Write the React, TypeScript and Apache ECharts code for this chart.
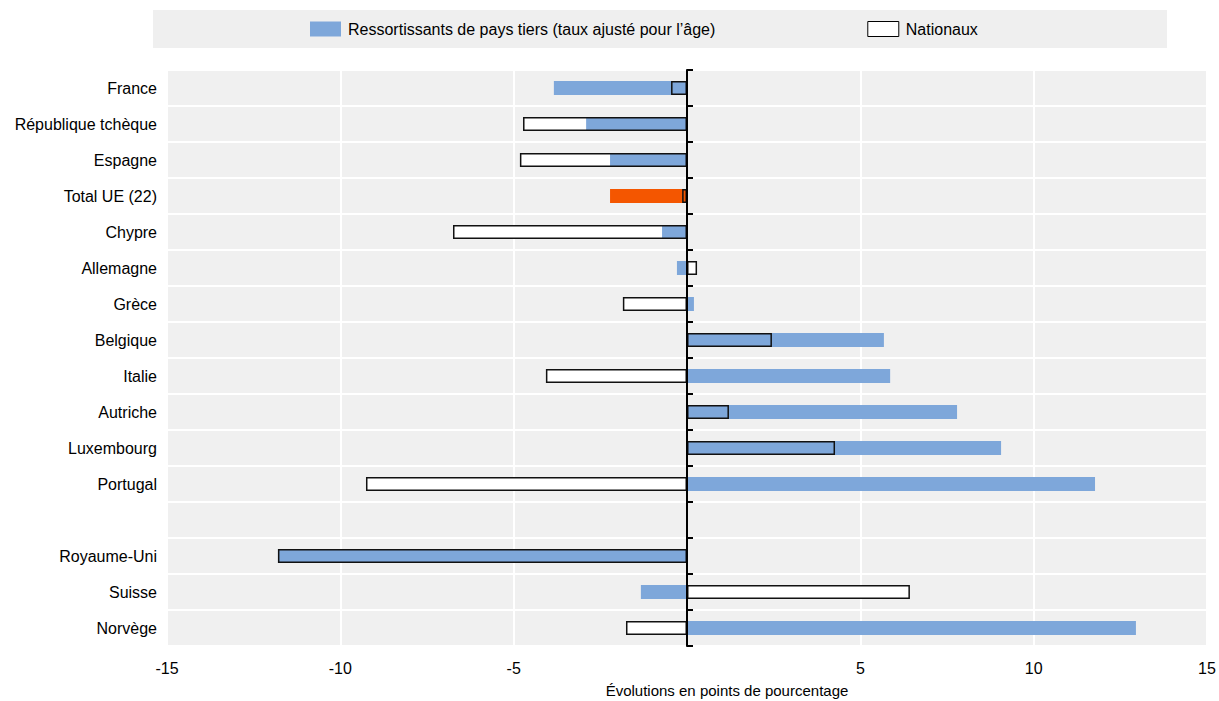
import React, { useEffect, useRef } from "react";
import * as echarts from "echarts";

const categories = [
  "France",
  "République tchèque",
  "Espagne",
  "Total UE (22)",
  "Chypre",
  "Allemagne",
  "Grèce",
  "Belgique",
  "Italie",
  "Autriche",
  "Luxembourg",
  "Portugal",
  "",
  "Royaume-Uni",
  "Suisse",
  "Norvège",
];

const thirdCountry = [-3.84, -2.91, -2.22, -2.22, -0.72, -0.29, 0.2, 5.68, 5.86, 7.79, 9.06, 11.77, null, -11.8, -1.33, 12.95];
const nationals = [-0.46, -4.73, -4.82, -0.14, -6.75, 0.29, -1.85, 2.45, -4.07, 1.21, 4.27, -9.26, null, -11.8, 6.43, -1.76];

const highlightCategory = "Total UE (22)";
const seriesThird = "Ressortissants de pays tiers (taux ajusté pour l’âge)";
const seriesNat = "Nationaux";
const axisName = "Évolutions en points de pourcentage";

const BLUE = "#7ea7da";
const ORANGE = "#f45600";
const FONT = "Liberation Sans, Arial, sans-serif";

export default function App() {
  const ref = useRef<HTMLDivElement>(null);
  useEffect(() => {
    if (!ref.current) return;
    const chart = echarts.init(ref.current, null, { renderer: "svg" });
    const blueData = thirdCountry.map((v, i) =>
      categories[i] === highlightCategory ? { value: v, itemStyle: { color: ORANGE } } : v
    );
    chart.setOption({
      animation: false,
      textStyle: { fontFamily: FONT },
      graphic: [
        {
          type: "rect",
          z: -10,
          shape: { x: 153, y: 10, width: 1014, height: 38 },
          style: { fill: "#efefef" },
        },
        {
          type: "text",
          x: 727,
          y: 683,
          style: { text: axisName, fill: "#000", font: `15px ${FONT}`, textAlign: "center" },
        },
      ],
      legend: {
        left: 310,
        top: 21,
        padding: 0,
        itemWidth: 31,
        itemHeight: 15,
        itemGap: 152,
        textStyle: { fontSize: 16, color: "#000", fontFamily: FONT, padding: [0, 0, 0, 2] },
        data: [
          { name: seriesThird, icon: "rect" },
          { name: seriesNat, icon: "rect", itemStyle: { color: "#fff", borderColor: "#000", borderWidth: 1 } },
        ],
      },
      grid: {
        left: 167,
        right: 12,
        top: 70,
        bottom: 55,
        show: true,
        backgroundColor: "#f0f0f0",
        borderWidth: 0,
        containLabel: false,
      },
      xAxis: {
        type: "value",
        min: -15,
        max: 15,
        interval: 5,
        axisLine: { show: false },
        axisTick: { show: false },
        axisLabel: {
          color: "#000",
          fontSize: 16,
          fontFamily: FONT,
          margin: 14,
          formatter: (v: number) => (v === 0 ? "" : String(v)),
        },
        splitLine: { show: true, lineStyle: { color: "#fff", width: 2 } },
      },
      yAxis: [
        {
          type: "category",
          data: categories,
          inverse: true,
          axisLine: { show: false, onZero: false },
          axisTick: { show: false },
          axisLabel: { color: "#000", fontSize: 16, fontFamily: FONT, margin: 10, interval: 0 },
          splitLine: { show: true, interval: 0, lineStyle: { color: "#fff", width: 2 } },
        },
        {
          type: "category",
          data: categories,
          inverse: true,
          position: "left",
          axisLine: { show: true, onZero: true, lineStyle: { color: "#000", width: 2 } },
          axisTick: { show: true, inside: true, length: 6, interval: 0, lineStyle: { color: "#000", width: 2 } },
          axisLabel: { show: false },
          splitLine: { show: false },
          z: 5,
        },
      ],
      series: [
        {
          name: "natfill",
          type: "bar",
          yAxisIndex: 0,
          data: nationals,
          barWidth: 14,
          barGap: "-100%",
          silent: true,
          itemStyle: { color: "#fff" },
        },
        {
          name: seriesThird,
          type: "bar",
          yAxisIndex: 0,
          data: blueData,
          barWidth: 14,
          barGap: "-100%",
          itemStyle: { color: BLUE },
        },
        {
          name: seriesNat,
          type: "bar",
          yAxisIndex: 0,
          data: nationals,
          barWidth: 14,
          barGap: "-100%",
          itemStyle: { color: "rgba(0,0,0,0)", borderColor: "#111", borderWidth: 1.5 },
        },
      ],
    });
    return () => chart.dispose();
  }, []);
  return (
    <div
      ref={ref}
      style={{ position: "fixed", left: 0, top: 0, width: 1219, height: 701, background: "#fff" }}
    />
  );
}
